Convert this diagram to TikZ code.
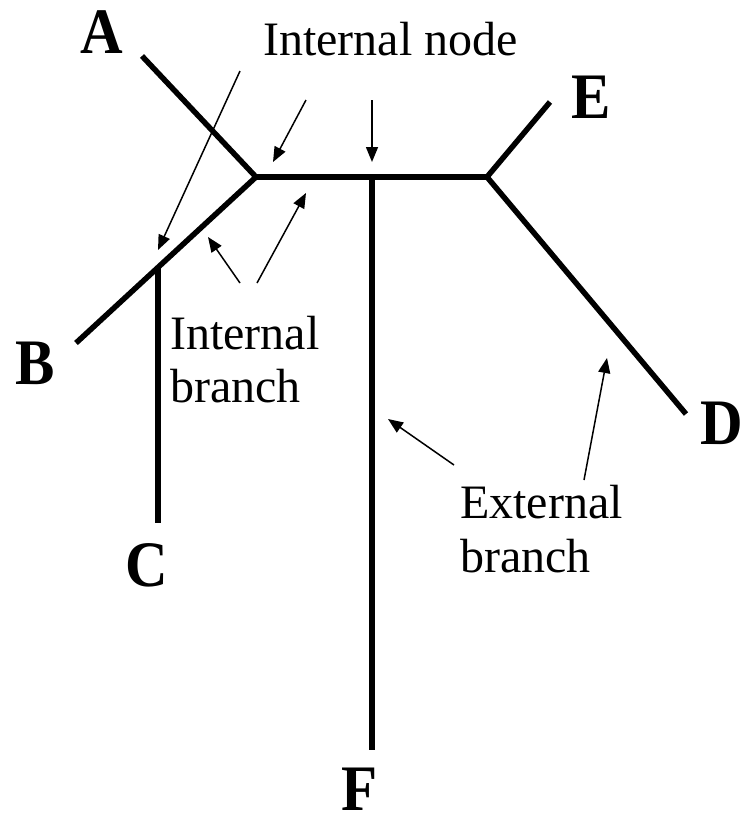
\documentclass[tikz,border=0pt]{standalone}
\usepackage{fontspec}
\setmainfont{Liberation Serif}
\usetikzlibrary{arrows.meta}
\newcommand{\leafletter}[1]{\scalebox{1}[1.1]{#1}}
\begin{document}
\begin{tikzpicture}[x=1pt,y=-1pt,
  branch/.style={line width=5.5pt,line cap=butt,line join=miter},
  pointer/.style={line width=1.5pt,-{Triangle[length=15pt,width=12pt]}},
  leaf/.style={font=\fontsize{59}{60}\selectfont\bfseries,inner sep=0pt},
  lbl/.style={font=\fontsize{48}{53}\selectfont,inner sep=0pt,anchor=base west}]
\useasboundingbox (0,0) rectangle (744,825);
% tree points
\coordinate (pA) at (142,56);
\coordinate (n1) at (256,177);
\coordinate (pB) at (76,343);
\coordinate (nC) at (158,268);
\coordinate (pC) at (158,523);
\coordinate (n2) at (487,177);
\coordinate (nF) at (372,177);
\coordinate (pF) at (372,750);
\coordinate (pE) at (550,102);
\coordinate (pD) at (686,414);
\draw[branch] (pA) -- (n1) -- (pB);
\draw[branch] (n1) -- (n2);
\draw[branch] (pE) -- (n2) -- (pD);
\draw[branch] (nC) -- (pC);
\draw[branch] (nF) -- (pF);
% leaf labels
\node[leaf] (lA) at (102,32) {\leafletter{A}};
\node[leaf] (lB) at (35,363) {\leafletter{B}};
\node[leaf] (lC) at (147,565) {\leafletter{C}};
\node[leaf] (lD) at (722,423) {\leafletter{D}};
\node[leaf] (lE) at (591,97) {\leafletter{E}};
\node[leaf] (lF) at (360,789) {\leafletter{F}};
% text labels
\node[lbl] (tin) at (263,55) {Internal node};
\node[lbl] (tib1) at (170,349) {Internal};
\node[lbl] (tib2) at (170,402) {branch};
\node[lbl] (teb1) at (460,518) {External};
\node[lbl] (teb2) at (460,572) {branch};
% pointer coordinates
\coordinate (a1s) at (240,71); \coordinate (a1e) at (158,250);
\coordinate (a2s) at (306,100); \coordinate (a2e) at (273,162);
\coordinate (a3s) at (372,100); \coordinate (a3e) at (372,162);
\coordinate (a4s) at (240,283); \coordinate (a4e) at (208,237);
\coordinate (a5s) at (257,283); \coordinate (a5e) at (306,193);
\coordinate (a6s) at (454,465); \coordinate (a6e) at (388,419);
\coordinate (a7s) at (584,480); \coordinate (a7e) at (607,358);
\draw[pointer] (a1s) -- (a1e);
\draw[pointer] (a2s) -- (a2e);
\draw[pointer] (a3s) -- (a3e);
\draw[pointer] (a4s) -- (a4e);
\draw[pointer] (a5s) -- (a5e);
\draw[pointer] (a6s) -- (a6e);
\draw[pointer] (a7s) -- (a7e);
\end{tikzpicture}
\end{document}
